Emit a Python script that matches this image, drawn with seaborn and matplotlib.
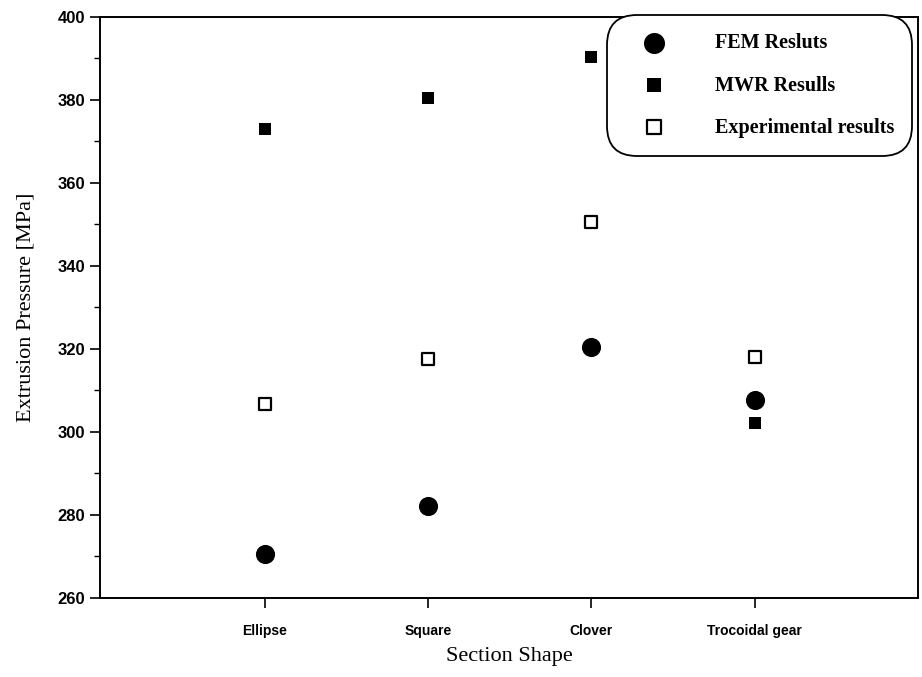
import matplotlib
matplotlib.use("Agg")
import matplotlib.pyplot as plt
import seaborn as sns
import pandas as pd

# values
shapes = ["Ellipse", "Square", "Clover", "Trocoidal gear"]
fem = [270.5, 282.2, 320.5, 307.6]
mwr = [372.9, 380.5, 390.4, 302.2]
exp_res = [306.8, 317.5, 350.5, 318.0]

df = pd.DataFrame({"shape": shapes, "FEM": fem, "MWR": mwr, "EXP": exp_res})

sns.set_style("ticks")
plt.rcParams["font.family"] = ["Liberation Sans", "DejaVu Sans"]
plt.rcParams["text.color"] = "black"
plt.rcParams["axes.labelcolor"] = "black"
plt.rcParams["xtick.color"] = "black"
plt.rcParams["ytick.color"] = "black"

fig = plt.figure(figsize=(9.22, 6.77), dpi=100)
ax = fig.add_axes([0.1085, 0.1167, 0.8872, 0.8582])

sns.scatterplot(data=df, x="shape", y="FEM", marker="o", s=190, color="black",
                edgecolor="black", linewidth=0, label="FEM Resluts", ax=ax, zorder=3)
sns.scatterplot(data=df, x="shape", y="MWR", marker="s", s=75, color="black",
                edgecolor="black", linewidth=0, label="MWR Resulls", ax=ax, zorder=3)
sns.scatterplot(data=df, x="shape", y="EXP", marker="s", s=75, facecolor="white",
                edgecolor="black", linewidth=1.6, label="Experimental results", ax=ax, zorder=3)

ax.set_xlim(-1.01, 4.0)
ax.set_ylim(260, 400)
ax.set_yticks(range(260, 401, 20))
ax.set_yticks(range(270, 400, 20), minor=True)
ax.tick_params(axis="both", which="major", direction="out", length=7, width=1.2, colors="black")
ax.tick_params(axis="y", which="minor", direction="out", length=4, width=1.0, colors="black")
for lab in ax.get_xticklabels():
    lab.set_fontweight("bold")
    lab.set_fontsize(10)
for lab in ax.get_yticklabels():
    lab.set_fontweight("bold")
    lab.set_fontsize(12)
ax.tick_params(axis="x", pad=12)

for sp in ax.spines.values():
    sp.set_color("black")
    sp.set_linewidth(1.4)

ax.set_xlabel("Section Shape", family=["Liberation Serif"], fontsize=16, labelpad=6)
ax.set_ylabel("Extrusion Pressure [MPa]", family=["Liberation Serif"], fontsize=16, labelpad=16)

leg = ax.legend(loc="upper right", bbox_to_anchor=(0.993, 1.003), fancybox=True,
                frameon=True, borderpad=0.9, labelspacing=1.1, handlelength=2.9,
                handletextpad=1.55, borderaxespad=0.0, markerscale=1.1,
                prop={"family": "Liberation Serif", "weight": "bold", "size": 14.5})
frame = leg.get_frame()
frame.set_edgecolor("black")
frame.set_linewidth(1.3)
frame.set_boxstyle("round", pad=0.0, rounding_size=1.5)
frame.set_alpha(1)

fig.savefig("out.png", dpi=100)
